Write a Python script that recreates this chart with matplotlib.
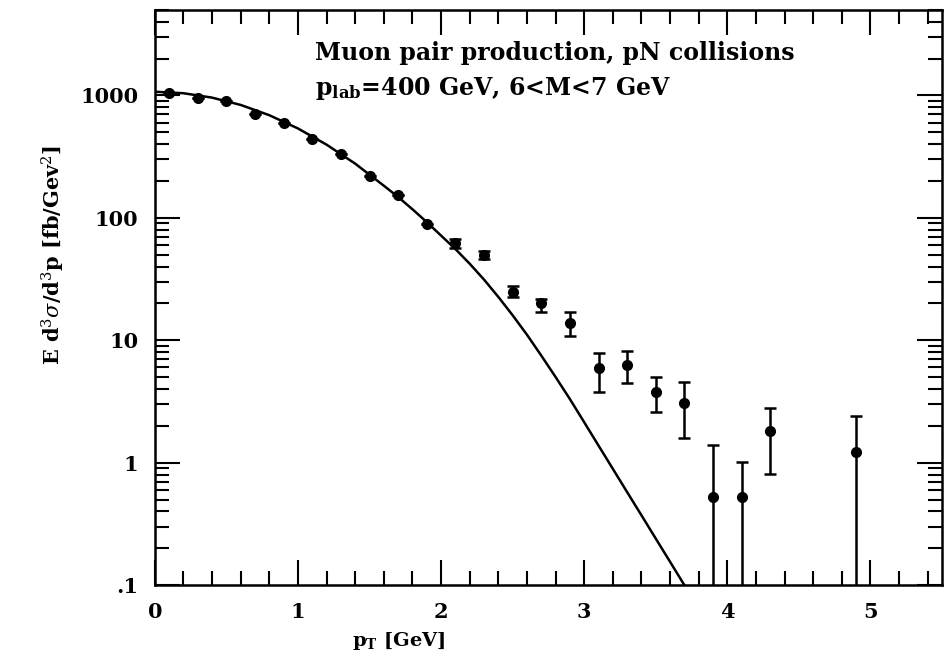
import matplotlib
matplotlib.use('Agg')
import matplotlib.pyplot as plt
import numpy as np
from matplotlib.ticker import LogLocator, NullFormatter, MultipleLocator

plt.rcParams['font.family'] = 'DejaVu Serif'
plt.rcParams['mathtext.fontset'] = 'dejavuserif'

# data points (pT in GeV, cross section in fb/GeV^2)
pt = [0.1, 0.3, 0.5, 0.7, 0.9, 1.1, 1.3, 1.5, 1.7, 1.9, 2.1, 2.3, 2.5,
      2.7, 2.9, 3.1, 3.3, 3.5, 3.7, 3.9, 4.1, 4.3, 4.9]
sigma = [1040, 960, 895, 705, 595, 441, 333, 219, 154, 89, 62, 50, 25,
         20.2, 13.9, 5.9, 6.3, 3.8, 3.1, 0.52, 0.52, 1.82, 1.22]
err_lo = [1040, 960, 895, 705, 595, 441, 333, 219, 154, 89, 57, 46, 22.5,
          17, 10.8, 3.76, 4.45, 2.58, 1.59, 0.01, 0.01, 0.81, 0.01]
err_hi = [1040, 960, 895, 705, 595, 441, 333, 219, 154, 89, 67, 54, 27.5,
          21.8, 17, 7.9, 8.2, 4.97, 4.53, 1.40, 1.02, 2.78, 2.41]

# theory curve
curve_pt = [0.0, 0.2, 0.4, 0.6, 0.8, 1.0, 1.2, 1.4, 1.6, 1.7, 1.8, 1.9,
            2.0, 2.1, 2.2, 2.3, 2.4, 2.5, 2.6, 2.7, 2.8, 2.9, 3.0,
            3.1, 3.2, 3.3, 3.4, 3.5, 3.6, 3.7, 3.8]
curve_val = [1072, 1042, 959, 836, 689, 537, 396, 277, 183, 148, 117.5, 92.3,
             71.6, 55.6, 42.2, 31.3, 22.6, 16.0, 11.1, 7.5, 5.01, 3.31, 2.14,
             1.38, 0.891, 0.575, 0.372, 0.24, 0.155, 0.1, 0.0646]

fig = plt.figure(figsize=(9.5, 6.56), dpi=100)
ax = fig.add_axes([0.163, 0.108, 0.8286, 0.877])

ax.plot(curve_pt, curve_val, color='black', lw=1.8)

s = np.array(sigma)
yerr = [s - np.array(err_lo), np.array(err_hi) - s]
ax.errorbar(pt, sigma, yerr=yerr, fmt='o', color='black', ms=7,
            elinewidth=1.8, capsize=4.5, capthick=1.8)

ax.set_yscale('log')
ax.set_xlim(0, 5.5)
ax.set_ylim(0.1, 5000)

ax.set_yticks([0.1, 1, 10, 100, 1000])
ax.set_yticklabels(['.1', '1', '10', '100', '1000'])
ax.yaxis.set_minor_locator(LogLocator(base=10, subs=np.arange(2, 10)))
ax.yaxis.set_minor_formatter(NullFormatter())
ax.xaxis.set_major_locator(MultipleLocator(1))
ax.xaxis.set_minor_locator(MultipleLocator(0.2))

ax.tick_params(which='both', direction='in', top=True, right=True, width=1.5)
ax.tick_params(which='major', length=18, labelsize=15, pad=12)
ax.tick_params(which='minor', length=10)
for lab in ax.get_xticklabels() + ax.get_yticklabels():
    lab.set_fontweight('bold')
for sp in ax.spines.values():
    sp.set_linewidth(1.8)

ax.set_xlabel(r'p$_\mathregular{T}$ [GeV]', fontsize=14, fontweight='bold')
ax.xaxis.set_label_coords(0.31, -0.078)
ax.set_ylabel(r'E d$^3\sigma$/d$^3$p [fb/Gev$^2$]', fontsize=15, fontweight='bold')
ax.yaxis.set_label_coords(-0.112, 0.574)

ax.text(0.203, 0.925, 'Muon pair production, pN collisions', transform=ax.transAxes,
        fontsize=17, fontweight='bold', va='center')
ax.text(0.203, 0.864, r'p$_{\mathregular{lab}}$=400 GeV, 6<M<7 GeV', transform=ax.transAxes,
        fontsize=17, fontweight='bold', va='center')

fig.savefig('out.png', dpi=100)
